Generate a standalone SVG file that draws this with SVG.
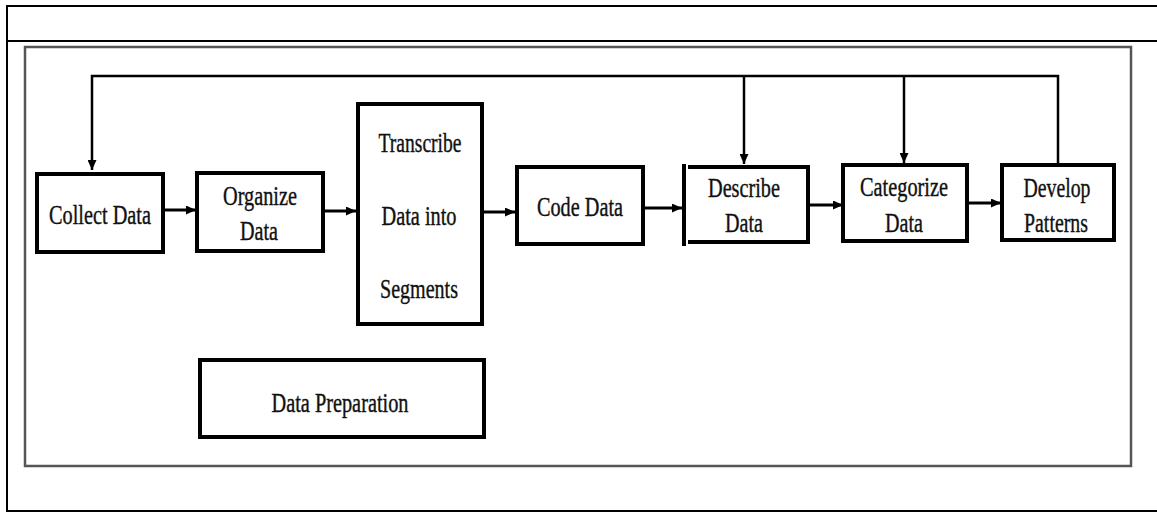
<svg xmlns="http://www.w3.org/2000/svg" width="1157" height="512" viewBox="0 0 1157 512">
<defs>
<style>
.tbl{stroke:#000;stroke-width:2;fill:none}
.frame{stroke:#555;stroke-width:2.5;fill:none}
.box{stroke:#000;stroke-width:4;fill:#fff}
.edge{stroke:#000;stroke-width:3;fill:none}
.fb{stroke:#000;stroke-width:2.5;fill:none}
.t{font-family:'Liberation Serif','DejaVu Serif','Noto Serif',serif;font-size:28px;fill:#111;stroke:#111;stroke-width:0.4;text-anchor:middle}
</style>
<marker id="ah" markerUnits="userSpaceOnUse" markerWidth="10" markerHeight="9" refX="10" refY="4.5" orient="auto">
<path d="M0,0 L10,4.5 L0,9 z" fill="#000"/>
</marker>
</defs>
<rect width="1157" height="512" fill="#fff"/>
<g id="table">
<path class="tbl" d="M1157,6 H7 V511 H1157 M7,41 H1157"/>
<rect class="frame" x="25" y="47" width="1106" height="419"/>
</g>
<g id="connectors">
<path class="fb" d="M1058,165 V76 H92 V170" marker-end="url(#ah)"/>
<path class="fb" d="M744,76 V164" marker-end="url(#ah)"/>
<path class="fb" d="M904,76 V163" marker-end="url(#ah)"/>
<path class="edge" d="M165,210 H196" marker-end="url(#ah)"/>
<path class="edge" d="M325,211 H356" marker-end="url(#ah)"/>
<path class="edge" d="M484,212 H515" marker-end="url(#ah)"/>
<path class="edge" d="M645,208 H682" marker-end="url(#ah)"/>
<path class="edge" d="M810,205 H843" marker-end="url(#ah)"/>
<path class="edge" d="M969,203 H1001" marker-end="url(#ah)"/>
</g>
<g id="collect">
<rect class="box" x="37" y="174" width="126" height="78"/>
<text class="t" x="100" y="224" textLength="102" lengthAdjust="spacingAndGlyphs">Collect Data</text>
</g>
<g id="organize">
<rect class="box" x="197" y="173" width="126" height="78"/>
<text class="t" x="260" y="205" textLength="74" lengthAdjust="spacingAndGlyphs">Organize</text>
<text class="t" x="259" y="240" textLength="38" lengthAdjust="spacingAndGlyphs">Data</text>
</g>
<g id="transcribe">
<rect class="box" x="358" y="104" width="124" height="220"/>
<text class="t" x="420" y="152" textLength="83" lengthAdjust="spacingAndGlyphs">Transcribe</text>
<text class="t" x="419" y="225" textLength="75" lengthAdjust="spacingAndGlyphs">Data into</text>
<text class="t" x="419" y="298" textLength="78" lengthAdjust="spacingAndGlyphs">Segments</text>
</g>
<g id="code">
<rect class="box" x="517" y="167" width="126" height="77"/>
<text class="t" x="580" y="216" textLength="86" lengthAdjust="spacingAndGlyphs">Code Data</text>
</g>
<g id="describe">
<path class="box" d="M688,167 H808 V242 H688"/>
<line x1="684" y1="164" x2="684" y2="246" stroke="#000" stroke-width="4"/>
<text class="t" x="744" y="197" textLength="72" lengthAdjust="spacingAndGlyphs">Describe</text>
<text class="t" x="744" y="232" textLength="38" lengthAdjust="spacingAndGlyphs">Data</text>
</g>
<g id="categorize">
<rect class="box" x="843" y="165" width="124" height="76"/>
<text class="t" x="904" y="196" textLength="88" lengthAdjust="spacingAndGlyphs">Categorize</text>
<text class="t" x="904" y="232" textLength="38" lengthAdjust="spacingAndGlyphs">Data</text>
</g>
<g id="develop">
<rect class="box" x="1002" y="165" width="112" height="75"/>
<text class="t" x="1057" y="197" textLength="67" lengthAdjust="spacingAndGlyphs">Develop</text>
<text class="t" x="1056" y="232" textLength="64" lengthAdjust="spacingAndGlyphs">Patterns</text>
</g>
<g id="preparation">
<rect class="box" x="200" y="360" width="284" height="77"/>
<text class="t" x="340" y="412" textLength="137" lengthAdjust="spacingAndGlyphs">Data Preparation</text>
</g>
</svg>
